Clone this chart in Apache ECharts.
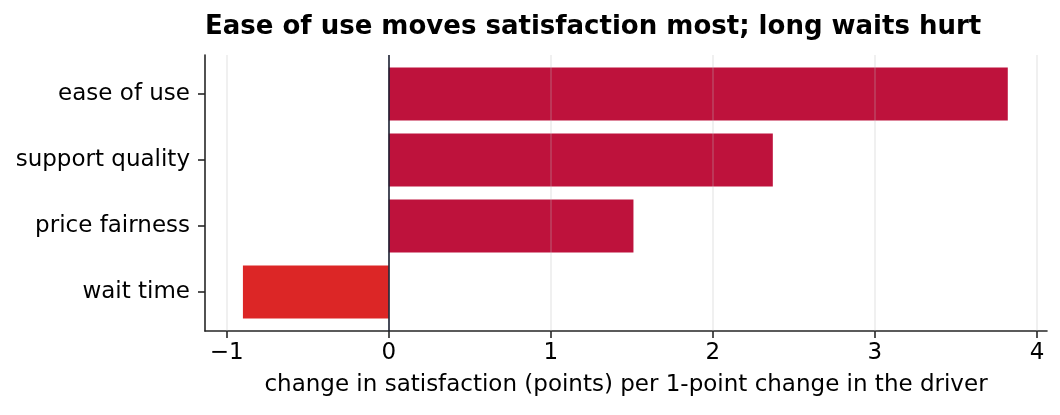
<!DOCTYPE html>
<html>
<head>
<meta charset="utf-8">
<script src="https://cdn.jsdelivr.net/npm/echarts@6/dist/echarts.min.js"></script>
<style>
  html, body { margin: 0; padding: 0; background: #fff; }
  #main { width: 1060px; height: 415px; }
</style>
</head>
<body>
<div id="main"></div>
<script>
// data
var drivers = ['ease of use', 'support quality', 'price fairness', 'wait time'];
var effects = [3.82, 2.37, 1.51, -0.90];
var xTicks = [-1, 0, 1, 2, 3, 4];

var posColor = '#BE123C';
var negColor = '#DC2626';
var font = 'DejaVu Sans';
var xMin = -1.134, xMax = 4.062;

var myChart = echarts.init(document.getElementById('main'));

var barData = [];
for (var i = 0; i < effects.length; i++) {
    barData.push({
        value: effects[i],
        itemStyle: { color: effects[i] < 0 ? negColor : posColor }
    });
}

// grid lines drawn over the bars, zero line on top
var lines = [];
for (var j = 0; j < xTicks.length; j++) {
    if (xTicks[j] === 0) continue;
    lines.push({ xAxis: xTicks[j], lineStyle: { color: 'rgba(190,190,190,0.3)', width: 1.5, type: 'solid' } });
}
lines.push({ xAxis: 0, lineStyle: { color: '#1a1f30', width: 1.6, type: 'solid' } });

var minus = function (v) { return String(v).replace('-', '\u2212'); };

option = {
    animation: false,
    backgroundColor: '#fff',
    title: {
        text: 'Ease of use moves satisfaction most; long waits hurt',
        left: 205,
        top: 14,
        padding: 0,
        textStyle: { fontFamily: font, fontSize: 26, fontWeight: 'bold', color: '#000' }
    },
    grid: [
        { left: 205, right: 13, top: 55, bottom: 84 },   // frame
        { left: 205, right: 13, top: 61, bottom: 90 }    // bars (matplotlib margins)
    ],
    xAxis: [
        {
            gridIndex: 0,
            type: 'value',
            min: xMin,
            max: xMax,
            name: 'change in satisfaction (points) per 1-point change in the driver',
            nameLocation: 'middle',
            nameGap: 43,
            nameTextStyle: { fontFamily: font, fontSize: 23, color: '#000' },
            axisLine: { show: true, onZero: false, lineStyle: { color: '#262626', width: 1.6 } },
            axisTick: { show: true, length: 7, customValues: xTicks, lineStyle: { color: '#262626', width: 1.6 } },
            axisLabel: {
                customValues: xTicks,
                margin: 11,
                fontFamily: font,
                fontSize: 23,
                color: '#000',
                formatter: minus
            },
            splitLine: { show: false }
        },
        {
            gridIndex: 1,
            type: 'value',
            min: xMin,
            max: xMax,
            show: false
        }
    ],
    yAxis: [
        {
            gridIndex: 0,
            type: 'value',
            min: 0,
            max: 1,
            axisLine: { show: true, onZero: false, lineStyle: { color: '#262626', width: 1.6 } },
            axisTick: { show: false },
            axisLabel: { show: false },
            splitLine: { show: false }
        },
        {
            gridIndex: 1,
            type: 'category',
            inverse: true,
            data: drivers,
            axisLine: { show: false, onZero: false },
            axisTick: { show: true, alignWithLabel: true, length: 7, lineStyle: { color: '#262626', width: 1.6 } },
            axisLabel: { margin: 15, padding: [4, 0, 0, 0], fontFamily: font, fontSize: 23, color: '#000' }
        }
    ],
    series: [
        {
            name: 'effect',
            type: 'bar',
            xAxisIndex: 1,
            yAxisIndex: 1,
            barCategoryGap: '20%',
            data: barData
        },
        {
            name: 'lines',
            type: 'line',
            xAxisIndex: 0,
            yAxisIndex: 0,
            data: [],
            markLine: {
                silent: true,
                symbol: ['none', 'none'],
                label: { show: false },
                data: lines
            }
        }
    ]
};

myChart.setOption(option);
</script>
</body>
</html>
